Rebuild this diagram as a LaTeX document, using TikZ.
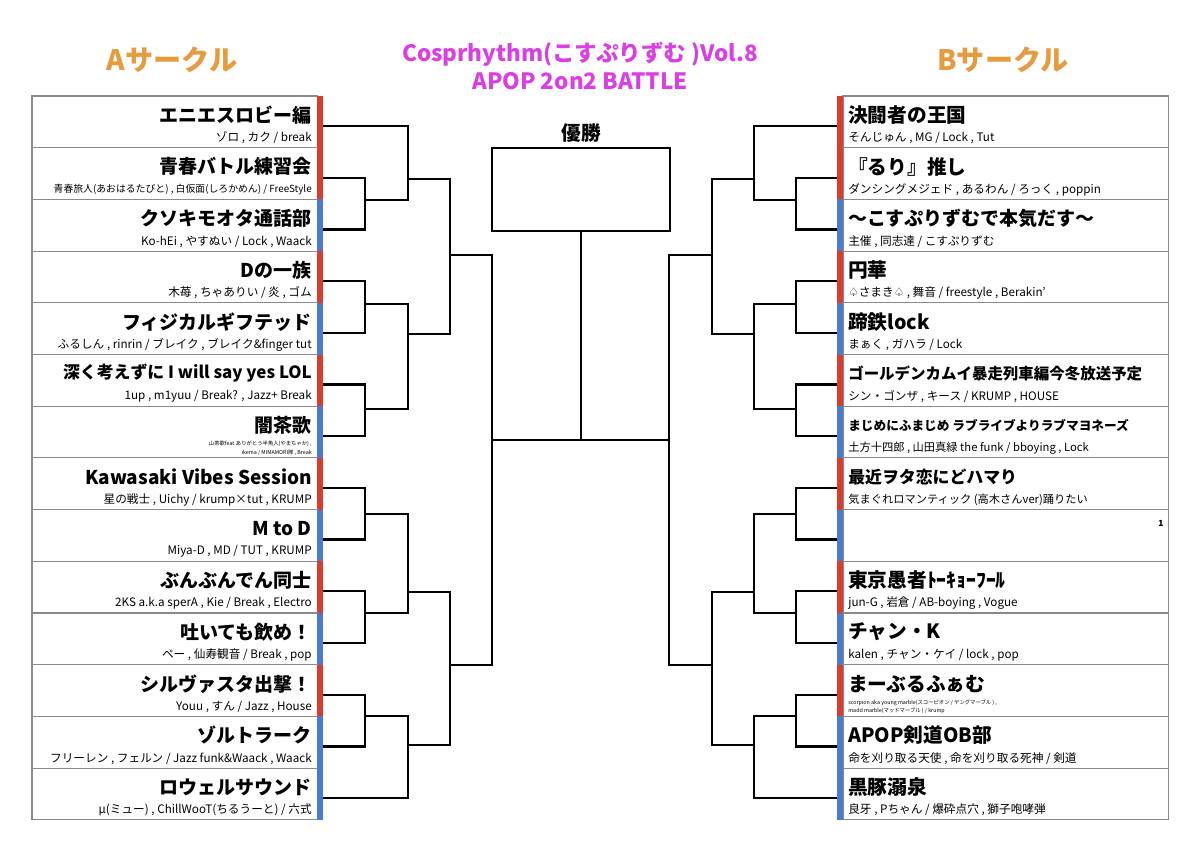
\documentclass[tikz,border=0pt]{standalone}
\usepackage{fontspec}
\setmainfont{Noto Sans CJK JP}
\newfontfamily\symfont{DejaVu Sans}
\usetikzlibrary{positioning}
\definecolor{barred}{HTML}{DC3B2E}
\definecolor{barblue}{HTML}{4A7BD4}
\definecolor{rowgray}{HTML}{8A8A8A}
\definecolor{titlemag}{HTML}{D93FE3}
\definecolor{circleorg}{HTML}{E69B3E}

\begin{document}
\begin{tikzpicture}[
  x=0.025cm, y=-0.025cm,
  row/.style={
    rectangle,
    draw=rowgray,
    line width=0.8pt,
    minimum height=1.2925cm,
    inner sep=0pt,
    outer sep=0pt,
    anchor=north west
  },
  lrow/.style={row, minimum width=7.125cm},
  rrow/.style={row, minimum width=8.125cm},
  teamfont/.style={inner sep=0pt, font=\bfseries\fontsize{#1}{#1}\selectfont},
  membfont/.style={inner sep=0pt, font=\fontsize{#1}{#1}\selectfont},
  wire/.style={line width=1.6pt},
  title/.style={align=center, text=titlemag, font=\bfseries\fontsize{16}{20}\selectfont},
  side/.style={text=circleorg, font=\bfseries\fontsize{20}{20}\selectfont}
]
\useasboundingbox (0,0) rectangle (1200,848);

% --- Headings ---
\node[title] (ttl) at (580,66) {Cosprhythm(こすぷりずむ )Vol.8\\APOP 2on2 BATTLE};
\node[side] (hA) at (172,60) {Aサークル};
\node[side] (hB) at (1003,60) {Bサークル};

% --- A circle rows ---
\foreach \i/\cl/\fn/\fs/\team/\memb in {
  1/barred/13.5/8.3/{エニエスロビー編}/{ゾロ , カク / break},
  2/barred/13.5/7/{青春バトル練習会}/{青春旅人(あおはるたびと) , 白仮面(しろかめん) / FreeStyle},
  3/barblue/13.5/8.3/{クソキモオタ通話部}/{Ko-hEi , やすぬい / Lock , Waack},
  4/barred/13.5/8.3/{Dの一族}/{木苺 , ちゃありい / 炎 , ゴム},
  5/barblue/13.5/8.3/{フィジカルギフテッド}/{ふるしん , rinrin / ブレイク , ブレイク\&finger tut},
  6/barred/12/8.3/{深く考えずに I will say yes LOL}/{1up , m1yuu / Break? , Jazz+ Break},
  7/barblue/13.5/3.8/{闇茶歌}/{山茶歌feat.ありがとう半魚人(やまちゃか) ,\\[1pt]ikema / MIMAMORI隊 , Break},
  8/barred/13.5/8.3/{Kawasaki Vibes Session}/{星の戦士 , Uichy / krump×tut , KRUMP},
  9/barblue/13.5/8.3/{M to D}/{Miya-D , MD / TUT , KRUMP},
  10/barred/13.5/8.3/{ぶんぶんでん同士}/{2KS a.k.a sperA , Kie / Break , Electro},
  11/barblue/13.5/8.3/{吐いても飲め！}/{ペー , 仙寿観音 / Break , pop},
  12/barred/13.5/8.3/{シルヴァスタ出撃！}/{Youu , すん / Jazz , House},
  13/barblue/13.5/8.3/{ゾルトラーク}/{フリーレン , フェルン / Jazz funk\&Waack , Waack},
  14/barblue/13.5/8.3/{ロウェルサウンド}/{µ(ミュー) , ChillWooT(ちるうーと) / 六式}} {
  \pgfmathsetmacro{\tp}{96+(\i-1)*51.7}
  \node[lrow] (L\i) at (32,\tp) {};
  \fill[\cl] (317,\tp) rectangle (323,\tp+51.7);
  \node[teamfont=\fn, anchor=east] (Ln\i) at (312,\tp+19) {\team};
  \node[membfont=\fs, anchor=east, align=right] (Lm\i) at (312,\tp+42) {\memb};
  \coordinate (Lt\i) at (323,\tp+30);
}

% --- B circle rows ---
\foreach \i/\cl/\fn/\fs/\team/\memb in {
  1/barred/14/8.3/{決闘者の王国}/{そんじゅん , MG / Lock , Tut},
  2/barred/14/8.3/{『るり』推し}/{ダンシングメジェド , あるわん / ろっく , poppin},
  3/barblue/13.5/8.3/{〜こすぷりずむで本気だす〜}/{主催 , 同志達 / こすぷりずむ},
  4/barred/14/8.3/{円華}/{{\symfont ♤}さまき{\symfont ♤} , 舞音 / freestyle , Berakin'},
  5/barblue/14/8.3/{蹄鉄lock}/{まぁく , ガハラ / Lock},
  6/barred/11/8.3/{ゴールデンカムイ暴走列車編今冬放送予定}/{シン・ゴンザ , キース / KRUMP , HOUSE},
  7/barblue/9/8/{まじめにふまじめ ラブライブよりラブマヨネーズ}/{土方十四郎 , 山田真緑 the funk / bboying , Lock},
  8/barred/12/8/{最近ヲタ恋にどハマり}/{気まぐれロマンティック (高木さんver)踊りたい},
  9/barblue/14/8.3/{}/{},
  10/barred/14/8.3/{東京愚者ﾄｰｷｮｰﾌｰﾙ}/{jun-G , 岩倉 / AB-boying , Vogue},
  11/barblue/14/8.3/{チャン・K}/{kalen , チャン・ケイ / lock , pop},
  12/barred/14/3.8/{まーぶるふぁむ}/{scorpion aka young marble(スコーピオン / ヤングマーブル ) ,\\[1pt]madd marble(マッドマーブル ) / krump},
  13/barblue/14/8.3/{APOP剣道OB部}/{命を刈り取る天使 , 命を刈り取る死神 / 剣道},
  14/barblue/14/8.3/{黒豚溺泉}/{良牙 , Pちゃん / 爆砕点穴 , 獅子咆哮弾}} {
  \pgfmathsetmacro{\tp}{96+(\i-1)*51.7}
  \node[rrow] (R\i) at (843,\tp) {};
  \fill[\cl] (837,\tp) rectangle (843,\tp+51.7);
  \node[teamfont=\fn, anchor=west] (Rn\i) at (848,\tp+19) {\team};
  \node[membfont=\fs, anchor=west, align=left] (Rm\i) at (848,\tp+42) {\memb};
  \coordinate (Rt\i) at (837,\tp+30);
}
\node[teamfont=6] (seed) at (1161,523) {1};

% --- bracket joints ---
\foreach \j/\y in {1/200, 2/304, 3/409, 4/514, 5/613, 6/716} {
  \coordinate (LA\j) at (365,\y);
  \coordinate (RA\j) at (796,\y);
}
\foreach \j/\y in {1/179, 2/334, 3/592, 4/745} {
  \coordinate (LB\j) at (408,\y);
  \coordinate (RB\j) at (754,\y);
}
\foreach \j/\y in {1/255, 2/665} {
  \coordinate (LC\j) at (450,\y);
  \coordinate (RC\j) at (712,\y);
}
\coordinate (LD) at (492,440);
\coordinate (RD) at (669,440);

% --- bracket lines ---
\foreach \sd in {L,R} {
  \foreach \p/\q in {t2/A1, t3/A1, t4/A2, t5/A2, t6/A3, t7/A3, t8/A4, t9/A4,
                     t10/A5, t11/A5, t12/A6, t13/A6, t1/B1, A1/B1, A2/B2, A3/B2,
                     A4/B3, A5/B3, A6/B4, t14/B4, B1/C1, B2/C1, B3/C2, B4/C2,
                     C1/D, C2/D}
    \draw[wire] (\sd\p) -| (\sd\q);
}

% --- winner ---
\node[draw, line width=1.6pt, minimum width=4.45cm, minimum height=2.075cm,
      inner sep=0pt, outer sep=0pt] (win) at (581,189.5) {};
\node[teamfont=14] (yusho) at (581,133) {優勝};
\draw[wire] (LD) -- (RD);
\draw[wire] (win) -- (win |- LD);

\end{tikzpicture}
\end{document}
